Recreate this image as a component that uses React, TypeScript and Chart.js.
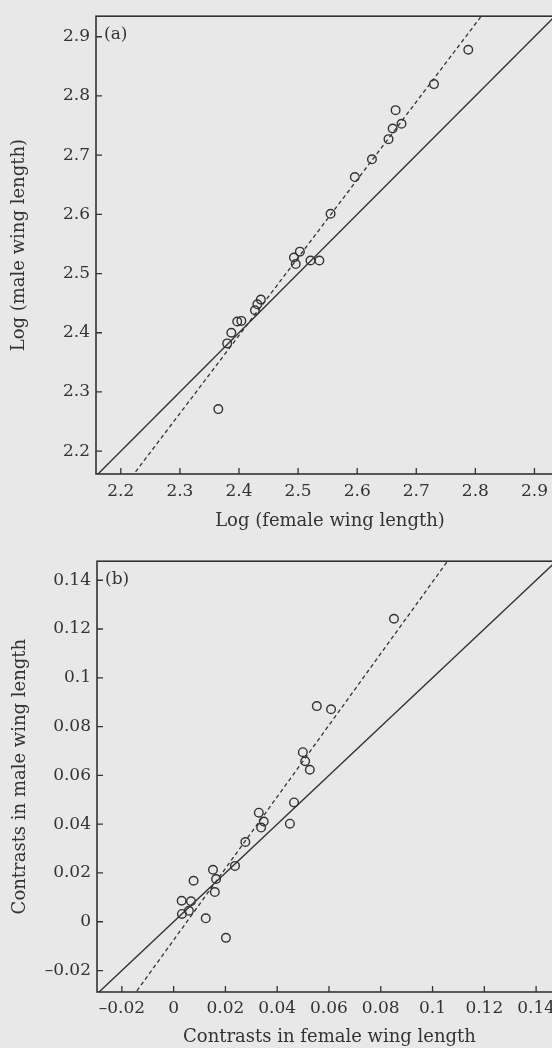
import React, { useEffect, useRef } from 'react';
import { Chart, registerables } from 'chart.js';

Chart.register(...registerables);

// (a) Species means, log-transformed wing length
const femaleLogWing = [
  2.788, 2.730, 2.665, 2.675, 2.660, 2.653, 2.625, 2.596, 2.555, 2.503, 2.493,
  2.496, 2.521, 2.536, 2.437, 2.431, 2.427, 2.404, 2.397, 2.387, 2.380, 2.365,
];
const maleLogWing = [
  2.878, 2.820, 2.776, 2.753, 2.745, 2.727, 2.693, 2.663, 2.601, 2.537, 2.527,
  2.516, 2.522, 2.522, 2.456, 2.448, 2.438, 2.420, 2.419, 2.400, 2.382, 2.271,
];

// (b) Independent contrasts in wing length
const femaleContrasts = [
  0.0851, 0.0553, 0.0608, 0.0499, 0.0508, 0.0526, 0.0465, 0.0329, 0.0348, 0.0338,
  0.0449, 0.0277, 0.0237, 0.0152, 0.0164, 0.0077, 0.0159, 0.0031, 0.0067, 0.0032,
  0.0059, 0.0124, 0.0202,
];
const maleContrasts = [
  0.1242, 0.0884, 0.0871, 0.0695, 0.0658, 0.0623, 0.0489, 0.0447, 0.0411, 0.0386,
  0.0402, 0.0327, 0.0229, 0.0213, 0.0175, 0.0168, 0.0122, 0.0086, 0.0084, 0.0032,
  0.0045, 0.0014, -0.0066,
];

// Axis ticks and labels
const logTicks = [2.2, 2.3, 2.4, 2.5, 2.6, 2.7, 2.8, 2.9];
const logTickLabels = ['2.2', '2.3', '2.4', '2.5', '2.6', '2.7', '2.8', '2.9'];
const contrastTicks = [-0.02, 0, 0.02, 0.04, 0.06, 0.08, 0.1, 0.12, 0.14];
const contrastTickLabels = ['\u20130.02', '0', '0.02', '0.04', '0.06', '0.08', '0.1', '0.12', '0.14'];

// Axis ranges
const logXRange = [2.158, 2.95];
const logYRange = [2.1614, 2.9347];
const contrastXRange = [-0.0296, 0.15];
const contrastYRange = [-0.0288, 0.1478];

// Fitted (dashed) lines; the solid line is the 1:1 line
const logFit = { slope: 1.3154, intercept: -0.7616 };
const contrastFit = { slope: 1.468, intercept: -0.0075 };

const INK = '#333333';
const FONT = '"DejaVu Serif", "Liberation Serif", serif';

const panelFrame = {
  id: 'panelFrame',
  afterDatasetsDraw(chart: any, _args: any, opts: any) {
    const { ctx, chartArea: a, scales } = chart;
    ctx.save();
    ctx.strokeStyle = INK;
    ctx.lineWidth = 1.6;
    ctx.strokeRect(a.left, a.top, a.right - a.left, a.bottom - a.top);
    ctx.lineWidth = 1.3;
    ctx.beginPath();
    for (const t of scales.x.ticks) {
      const px = scales.x.getPixelForValue(t.value);
      ctx.moveTo(px, a.bottom);
      ctx.lineTo(px, a.bottom - 6);
    }
    for (const t of scales.y.ticks) {
      const py = scales.y.getPixelForValue(t.value);
      ctx.moveTo(a.left, py);
      ctx.lineTo(a.left + 6, py);
    }
    ctx.stroke();
    ctx.fillStyle = INK;
    ctx.font = `17px ${FONT}`;
    ctx.textBaseline = 'middle';
    ctx.textAlign = 'left';
    ctx.fillText(opts.label, a.left + 8, a.top + 18);
    ctx.restore();
  },
};

interface PanelSpec {
  xs: number[];
  ys: number[];
  xRange: number[];
  yRange: number[];
  xTicks: number[];
  yTicks: number[];
  xLabels: string[];
  yLabels: string[];
  fit: { slope: number; intercept: number };
  xTitle: string;
  yTitle: string;
  label: string;
  width: number;
  height: number;
  padTop: number;
  padRight: number;
  yAxisWidth: number;
  xAxisHeight: number;
  xTickPad: number;
  yTitlePad: number;
  xTitlePad: number;
}

function buildConfig(s: PanelSpec): any {
  const points = s.xs.map((x, i) => ({ x, y: s.ys[i] }));
  const lo = Math.min(s.xRange[0], s.yRange[0]) - 1;
  const hi = Math.max(s.xRange[1], s.yRange[1]) + 1;
  const identity = [
    { x: lo, y: lo },
    { x: hi, y: hi },
  ];
  const fitLine = [s.xRange[0] - 1, s.xRange[1] + 1].map((x) => ({
    x,
    y: s.fit.slope * x + s.fit.intercept,
  }));
  const tickLabel = (ticks: number[], labels: string[]) => (v: any) => {
    const i = ticks.findIndex((t) => Math.abs(t - v) < 1e-9);
    return i >= 0 ? labels[i] : '';
  };
  return {
    type: 'scatter',
    data: {
      datasets: [
        {
          data: points,
          pointStyle: 'circle',
          pointRadius: 4.3,
          pointBorderWidth: 1.4,
          borderColor: INK,
          backgroundColor: 'rgba(0,0,0,0)',
          pointBackgroundColor: 'rgba(0,0,0,0)',
        },
        {
          data: identity,
          showLine: true,
          pointRadius: 0,
          borderWidth: 1.4,
          borderColor: INK,
        },
        {
          data: fitLine,
          showLine: true,
          pointRadius: 0,
          borderWidth: 1.3,
          borderDash: [4, 3],
          borderColor: INK,
        },
      ],
    },
    options: {
      animation: false,
      responsive: false,
      events: [],
      layout: { padding: { top: s.padTop, right: s.padRight, left: 0, bottom: 0 } },
      plugins: {
        legend: { display: false },
        tooltip: { enabled: false },
        panelFrame: { label: s.label },
      },
      scales: {
        x: {
          type: 'linear',
          min: s.xRange[0],
          max: s.xRange[1],
          grid: { display: false, drawTicks: false },
          border: { display: false },
          afterBuildTicks: (sc: any) => {
            sc.ticks = s.xTicks.map((value) => ({ value }));
          },
          afterFit: (sc: any) => {
            sc.height = s.xAxisHeight;
          },
          ticks: {
            padding: s.xTickPad,
            color: INK,
            maxRotation: 0,
            autoSkip: false,
            font: { family: FONT, size: 17 },
            callback: tickLabel(s.xTicks, s.xLabels),
          },
          title: {
            display: true,
            text: s.xTitle,
            color: INK,
            font: { family: FONT, size: 18 },
            padding: { top: 0, bottom: s.xTitlePad },
          },
        },
        y: {
          type: 'linear',
          min: s.yRange[0],
          max: s.yRange[1],
          grid: { display: false, drawTicks: false },
          border: { display: false },
          afterBuildTicks: (sc: any) => {
            sc.ticks = s.yTicks.map((value) => ({ value }));
          },
          afterFit: (sc: any) => {
            sc.width = s.yAxisWidth;
          },
          ticks: {
            padding: 6,
            color: INK,
            autoSkip: false,
            font: { family: FONT, size: 17 },
            callback: tickLabel(s.yTicks, s.yLabels),
          },
          title: {
            display: true,
            text: s.yTitle,
            color: INK,
            font: { family: FONT, size: 18 },
            padding: { top: s.yTitlePad, bottom: 0 },
          },
        },
      },
    },
    plugins: [panelFrame],
  };
}

function ScatterPanel({ spec, top }: { spec: PanelSpec; top: number }) {
  const ref = useRef<HTMLCanvasElement | null>(null);
  useEffect(() => {
    if (!ref.current) return;
    const chart = new Chart(ref.current, buildConfig(spec));
    return () => chart.destroy();
  }, [spec]);
  return (
    <canvas
      ref={ref}
      width={spec.width}
      height={spec.height}
      style={{ position: 'absolute', left: 0, top, width: spec.width, height: spec.height }}
    />
  );
}

const panelA: PanelSpec = {
  xs: femaleLogWing,
  ys: maleLogWing,
  xRange: logXRange,
  yRange: logYRange,
  xTicks: logTicks,
  yTicks: logTicks,
  xLabels: logTickLabels,
  yLabels: logTickLabels,
  fit: logFit,
  xTitle: 'Log (female wing length)',
  yTitle: 'Log (male wing length)',
  label: '(a)',
  width: 580,
  height: 540,
  padTop: 13,
  padRight: 16,
  yAxisWidth: 96,
  xAxisHeight: 66,
  xTickPad: 7,
  yTitlePad: 9,
  xTitlePad: 8,
};

const panelB: PanelSpec = {
  xs: femaleContrasts,
  ys: maleContrasts,
  xRange: contrastXRange,
  yRange: contrastYRange,
  xTicks: contrastTicks,
  yTicks: contrastTicks,
  xLabels: contrastTickLabels,
  yLabels: contrastTickLabels,
  fit: contrastFit,
  xTitle: 'Contrasts in female wing length',
  yTitle: 'Contrasts in male wing length',
  label: '(b)',
  width: 580,
  height: 503,
  padTop: 15,
  padRight: 18,
  yAxisWidth: 97,
  xAxisHeight: 56,
  xTickPad: 6,
  yTitlePad: 10,
  xTitlePad: 0,
};

export default function App() {
  return (
    <div
      style={{
        position: 'absolute',
        left: 0,
        top: 0,
        width: 552,
        height: 1048,
        overflow: 'hidden',
        background: '#e8e8e8',
      }}
    >
      <ScatterPanel spec={panelA} top={0} />
      <ScatterPanel spec={panelB} top={545} />
    </div>
  );
}
